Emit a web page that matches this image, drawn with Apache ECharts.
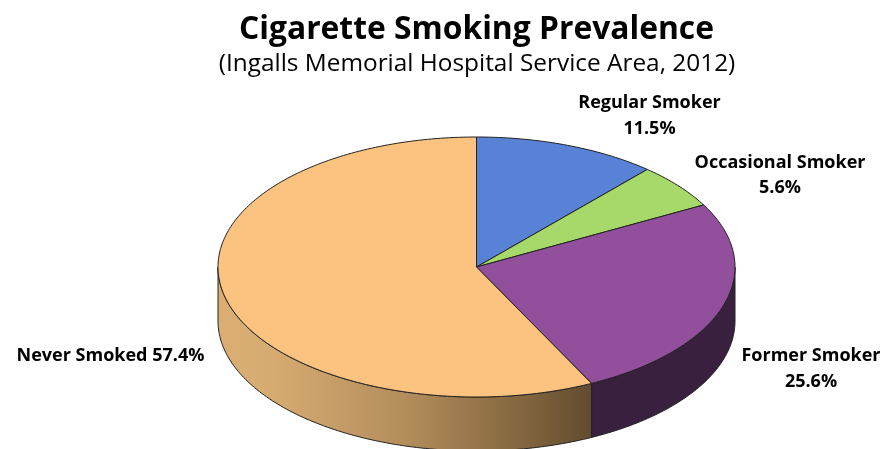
<!DOCTYPE html>
<html><head><meta charset="utf-8">
<script src="https://cdn.jsdelivr.net/npm/echarts@6/dist/echarts.min.js"></script>
<style>html,body{margin:0;padding:0;background:#fff}#c{width:890px;height:449px}</style>
</head><body><div id="c"></div>
<script>
const titleText = 'Cigarette Smoking Prevalence';
const subtitleText = '(Ingalls Memorial Hospital Service Area, 2012)';
const categories = ['Regular Smoker', 'Occasional Smoker', 'Former Smoker', 'Never Smoked'];
const values = [11.5, 5.6, 25.6, 57.4];

const topColors = ['#5882D6', '#A6D96A', '#924F9B', '#FCC27F'];
const sideColors = [
  '#2A3D66', '#4E6632', '#38203E',
  {type:'linear', global:true, x:218, y:0, x2:591, y2:0, colorStops:[
    {offset:0, color:'#DAAE73'},{offset:0.15, color:'#D6AB71'},{offset:0.5, color:'#B48D5C'},
    {offset:0.8, color:'#85683F'},{offset:1, color:'#624C30'}]}
];
const labelLayout = [
  {x:649.5, y:116, sep:'\n'}, {x:780, y:175.5, sep:'\n'}, {x:811, y:369, sep:'\n'}, {x:110.5, y:355.5, sep:' '}
];
const G = {cx:476.5, cy:267, rx:258.5, ry:130, depth:54};
const total = values.reduce((a,b)=>a+b,0);

function pt(deg, dy){
  const t = deg*Math.PI/180;
  return [G.cx + G.rx*Math.sin(t), G.cy - G.ry*Math.cos(t) + (dy||0)];
}
function arc(a, b, dy){
  const out = [], n = Math.max(2, Math.ceil(Math.abs(b-a)));
  for(let i=0;i<=n;i++) out.push(pt(a+(b-a)*i/n, dy));
  return out;
}
function renderItem(params, api){
  const i = params.dataIndex;
  let prev = 0;
  for(let k=0;k<i;k++) prev += values[k];
  const a = prev/total*360, b = (prev+api.value(0))/total*360;
  const children = [];
  const sa = Math.max(a,90), sb = Math.min(b,270);
  if(sb > sa){
    const pts = arc(sa,sb,0).concat(arc(sb,sa,G.depth));
    children.push({type:'polygon', shape:{points:pts}, silent:true,
      style:{fill:sideColors[i], stroke:'#222', lineWidth:1}});
  }
  const topPts = [[G.cx,G.cy]].concat(arc(a,b,0));
  children.push({type:'polygon', shape:{points:topPts}, silent:true, z2:10,
    style:{fill:topColors[i], stroke:'#222', lineWidth:1}});
  const L = labelLayout[i];
  children.push({type:'text', silent:true, z2:20, style:{
    x:L.x, y:L.y, text:categories[i]+L.sep+api.value(0).toFixed(1)+'%',
    align:'center', verticalAlign:'middle', lineHeight:25.5,
    fontFamily:'"Open Sans"', fontWeight:'bold', fontSize:18, fill:'#000'}});
  return {type:'group', children};
}
const chart = echarts.init(document.getElementById('c'), null, {renderer:'canvas'});
chart.setOption({
  animation:false, backgroundColor:'#fff',
  title:[
    {text:titleText, left:471.5, top:9, textAlign:'center',
     textStyle:{fontFamily:'"Open Sans"', fontWeight:'bold', fontSize:31.8, color:'#000'}},
    {text:subtitleText, left:472, top:47, textAlign:'center',
     textStyle:{fontFamily:'"Open Sans"', fontWeight:'normal', fontSize:24.4, color:'#000'}}
  ],
  series:[{type:'custom', coordinateSystem:'none', renderItem, data:values.map(v=>[v]), animation:false}]
});
</script></body></html>
